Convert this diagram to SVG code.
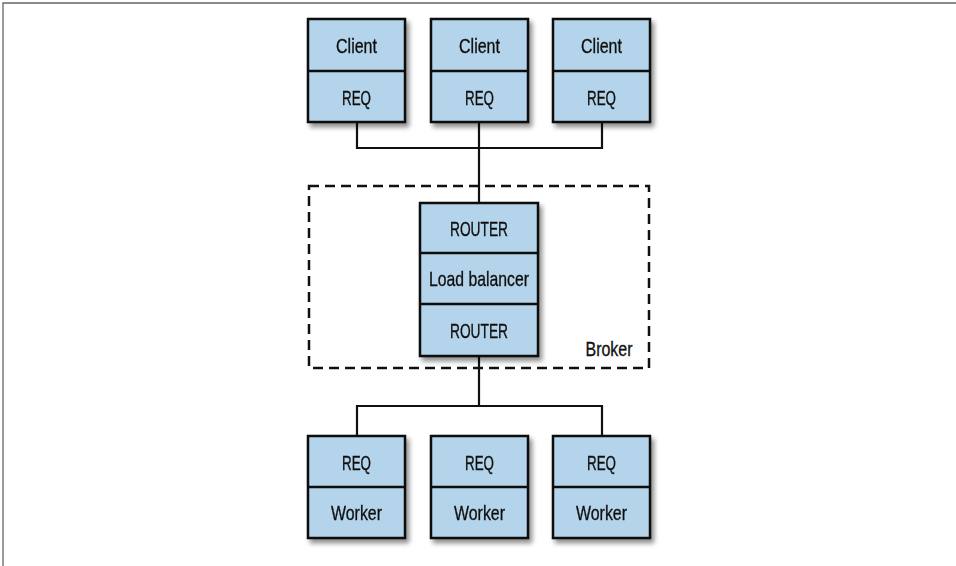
<svg xmlns="http://www.w3.org/2000/svg" width="956" height="566" viewBox="0 0 956 566">
<style>
.box{fill:#b3d4ea;stroke:#111;stroke-width:2.5}
.div{stroke:#111;stroke-width:2.5}
.t{font-family:"Liberation Sans",Arial,sans-serif;font-size:21px;fill:#111;stroke:#111;stroke-width:0.35;text-anchor:middle}
.c{fill:none;stroke:#111;stroke-width:2.2}
</style>
<defs>
<filter id="sh" x="-20%" y="-20%" width="150%" height="150%">
<feGaussianBlur in="SourceAlpha" stdDeviation="2.5"/>
<feOffset dx="3" dy="4" result="b"/>
<feComponentTransfer><feFuncA type="linear" slope="0.45"/></feComponentTransfer>
<feMerge><feMergeNode/><feMergeNode in="SourceGraphic"/></feMerge>
</filter>
</defs>
<rect width="956" height="566" fill="#fff"/>
<path d="M3 566V3H956" fill="none" stroke="#666" stroke-width="1.3"/>
<g id="connectors">
<path class="c" d="M357 122V148H602V122M479 122V203"/>
<path class="c" d="M479 356V406M357 436V406H602V436"/>
</g>
<g id="broker">
<rect x="309" y="186" width="340" height="182" fill="none" stroke="#111" stroke-width="2.5" stroke-dasharray="10 6"/>
<text class="t" x="609" y="356" textLength="47" lengthAdjust="spacingAndGlyphs">Broker</text>
</g>
<g id="client1" filter="url(#sh)">
<rect class="box" x="308" y="19" width="97" height="103"/><line class="div" x1="308" y1="71" x2="405" y2="71"/>
<text class="t" x="356.5" y="52.5" textLength="41" lengthAdjust="spacingAndGlyphs">Client</text>
<text class="t" x="356.5" y="104.5" textLength="29" lengthAdjust="spacingAndGlyphs">REQ</text>
</g>
<g id="client2" filter="url(#sh)">
<rect class="box" x="431" y="19" width="97" height="103"/><line class="div" x1="431" y1="71" x2="528" y2="71"/>
<text class="t" x="479.5" y="52.5" textLength="41" lengthAdjust="spacingAndGlyphs">Client</text>
<text class="t" x="479.5" y="104.5" textLength="29" lengthAdjust="spacingAndGlyphs">REQ</text>
</g>
<g id="client3" filter="url(#sh)">
<rect class="box" x="553" y="19" width="97" height="103"/><line class="div" x1="553" y1="71" x2="650" y2="71"/>
<text class="t" x="601.5" y="52.5" textLength="41" lengthAdjust="spacingAndGlyphs">Client</text>
<text class="t" x="601.5" y="104.5" textLength="29" lengthAdjust="spacingAndGlyphs">REQ</text>
</g>
<g id="router" filter="url(#sh)">
<rect class="box" x="420" y="203" width="118" height="153"/>
<line class="div" x1="420" y1="253" x2="538" y2="253"/><line class="div" x1="420" y1="304" x2="538" y2="304"/>
<text class="t" x="479" y="235.5" textLength="58" lengthAdjust="spacingAndGlyphs">ROUTER</text>
<text class="t" x="479" y="286" textLength="100" lengthAdjust="spacingAndGlyphs">Load balancer</text>
<text class="t" x="479" y="337.5" textLength="58" lengthAdjust="spacingAndGlyphs">ROUTER</text>
</g>
<g id="worker1" filter="url(#sh)">
<rect class="box" x="308" y="436" width="97" height="102"/><line class="div" x1="308" y1="487" x2="405" y2="487"/>
<text class="t" x="356.5" y="469.5" textLength="29" lengthAdjust="spacingAndGlyphs">REQ</text>
<text class="t" x="356.5" y="520" textLength="51" lengthAdjust="spacingAndGlyphs">Worker</text>
</g>
<g id="worker2" filter="url(#sh)">
<rect class="box" x="431" y="436" width="97" height="102"/><line class="div" x1="431" y1="487" x2="528" y2="487"/>
<text class="t" x="479.5" y="469.5" textLength="29" lengthAdjust="spacingAndGlyphs">REQ</text>
<text class="t" x="479.5" y="520" textLength="51" lengthAdjust="spacingAndGlyphs">Worker</text>
</g>
<g id="worker3" filter="url(#sh)">
<rect class="box" x="553" y="436" width="97" height="102"/><line class="div" x1="553" y1="487" x2="650" y2="487"/>
<text class="t" x="601.5" y="469.5" textLength="29" lengthAdjust="spacingAndGlyphs">REQ</text>
<text class="t" x="601.5" y="520" textLength="51" lengthAdjust="spacingAndGlyphs">Worker</text>
</g>
</svg>
